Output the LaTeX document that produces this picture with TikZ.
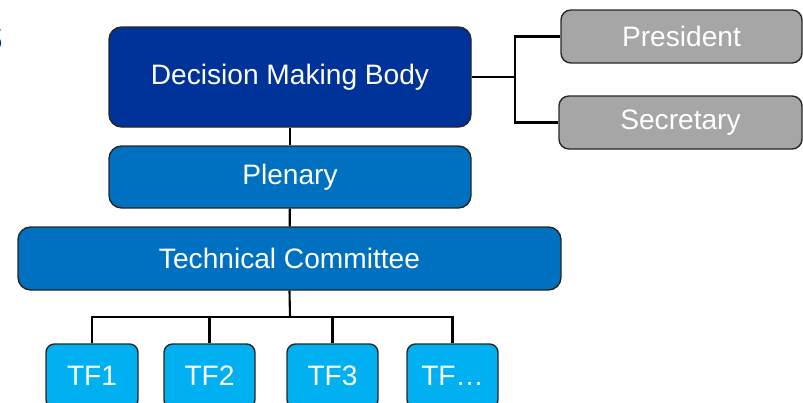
\documentclass[tikz,border=0pt]{standalone}
\usepackage{fontspec}
\setmainfont{Liberation Sans}
\usepackage{tikz}
\usetikzlibrary{calc}
\definecolor{dmbblue}{HTML}{003399}
\definecolor{midblue}{HTML}{0070C0}
\definecolor{tfblue}{HTML}{00B0F0}
\definecolor{boxgray}{HTML}{A6A6A6}
\definecolor{edgegray}{HTML}{262626}
\newlength\px
\setlength\px{0.025cm}
\tikzset{
    box/.style={draw=edgegray, line width=1pt, rounded corners=9pt, text=white,
        font=\fontsize{20}{24}\selectfont, inner sep=0pt},
    graybox/.style={box, fill=boxgray, rounded corners=7pt, minimum height=53\px},
    tfbox/.style={box, fill=tfblue, rounded corners=6pt, minimum width=91\px, minimum height=64\px},
    link/.style={line width=1.5pt, black}
}

\begin{document}
\begin{tikzpicture}[x=0.025cm, y=-0.025cm]
        \clip (0,0) rectangle (803,402);

        % cut title
        \node[text=dmbblue, font=\fontsize{34}{40}\selectfont, anchor=base east, inner sep=0pt] (title) at (4,50) {s};

        % top
        \node[box, fill=dmbblue, minimum width=362\px, minimum height=100\px] (dmb) at (290,77) {Decision Making Body};
        \node[graybox, minimum width=241\px] (pres) at (681.5,36.5) {President};
        \node[graybox, minimum width=243\px] (secr) at (680.5,122.5) {Secretary};

        % middle
        \node[box, fill=midblue, minimum width=362\px, minimum height=62\px] (plen) at (290,177) {Plenary};
        \node[box, fill=midblue, minimum width=543\px, minimum height=63\px] (tc) at (289.5,258.5) {Technical Committee};

        % task forces
        \node[tfbox, minimum width=92\px] (tf1) at (92,376) {TF1};
        \node[tfbox] (tf2) at (209.5,376) {TF2};
        \node[tfbox] (tf3) at (332.5,376) {TF3};
        \node[tfbox] (tf4) at (452.5,376) {TF\ldots};

        % links
        \coordinate (fork) at (515,77);
        \coordinate (bus) at (290,317);
        \draw[link] (dmb.east) -- (fork);
        \draw[link] (pres.west) -| (fork) |- (secr.west);
        \draw[link] (dmb) -- (plen);
        \draw[link] (plen) -- (tc);
        \draw[link] (tc.south) -- (bus);
        \draw[link] (tf1.north) |- (bus) -| (tf4.north);
        \draw[link] (tf2.north) -- (tf2.north |- bus);
        \draw[link] (tf3.north) -- (tf3.north |- bus);
\end{tikzpicture}
\end{document}
